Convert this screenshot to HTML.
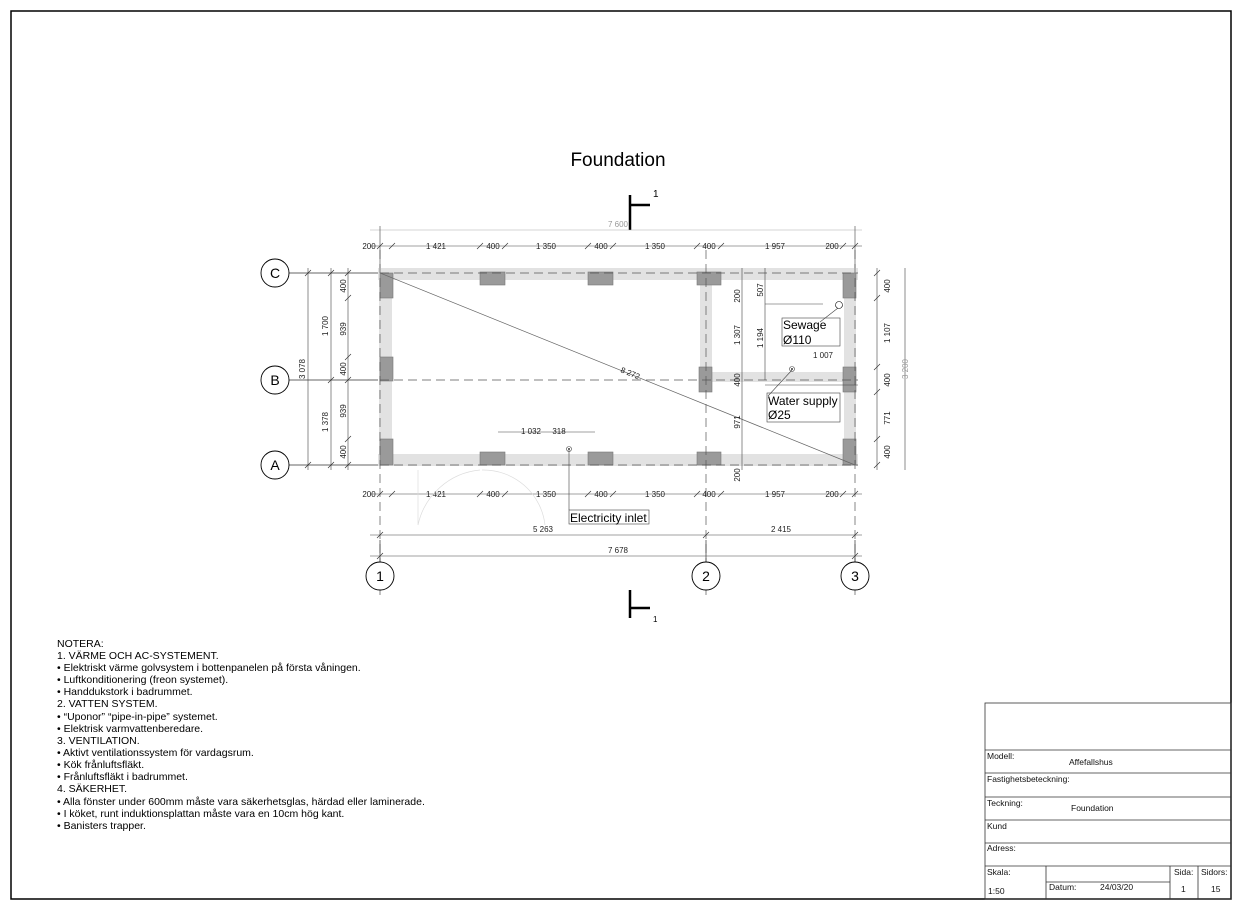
<!DOCTYPE html>
<html><head><meta charset="utf-8"><style>
body{margin:0;background:#fff}
svg{display:block;font-family:"Liberation Sans",sans-serif}
.d{font-size:8px;fill:#222}
.n{font-size:10.5px;fill:#000}
.t{font-size:8.5px;fill:#111}
</style></head><body>
<svg width="1242" height="910" viewBox="0 0 1242 910" xmlns="http://www.w3.org/2000/svg">
<rect x="11" y="11" width="1220" height="888" fill="none" stroke="#000" stroke-width="1.5"/>
<text x="618" y="166" font-size="19" text-anchor="middle">Foundation</text>
<!-- section markers -->
<path d="M630 195V230M630 205H650" stroke="#000" stroke-width="2.5" fill="none"/>
<text x="653" y="197" font-size="10">1</text>
<path d="M630 590V618M630 608H650" stroke="#000" stroke-width="2.5" fill="none"/>
<text x="653" y="622" font-size="8">1</text>
<!-- foundation strips -->
<g fill="#e2e2e2">
<rect x="378" y="268" width="480" height="12"/>
<rect x="378" y="454" width="480" height="12"/>
<rect x="379" y="268" width="13" height="198"/>
<rect x="844" y="268" width="12" height="198"/>
<rect x="700" y="280" width="12" height="100"/>
<rect x="700" y="372" width="156" height="10"/>
</g>
<g fill="#9a9a9a" stroke="#777" stroke-width="0.6">
<rect x="480" y="272" width="25" height="13"/><rect x="588" y="272" width="25" height="13"/><rect x="697" y="272" width="24" height="13"/>
<rect x="480" y="452" width="25" height="13"/><rect x="588" y="452" width="25" height="13"/><rect x="697" y="452" width="24" height="13"/>
<rect x="380" y="273" width="13" height="25"/><rect x="380" y="357" width="13" height="24"/><rect x="380" y="439" width="13" height="26"/>
<rect x="843" y="273" width="13" height="25"/><rect x="843" y="367" width="13" height="25"/><rect x="843" y="439" width="13" height="26"/>
<rect x="699" y="367" width="13" height="25"/>
</g>
<!-- grid lines dashed -->
<g stroke="#555" stroke-width="0.7" stroke-dasharray="9,5" fill="none">
<path d="M380 273H858M380 380H858M380 465H858"/>
<path d="M380 250V600M706 250V600M855 250V600"/>
</g>
<!-- diagonal -->
<path d="M380 273L855 465" stroke="#666" stroke-width="0.7"/>
<text x="620" y="372" class="d" transform="rotate(22 620 372)">8 272</text>
<!-- grid line extensions to bubbles -->
<g stroke="#333" stroke-width="0.7" fill="none">
<path d="M289 273H378M289 380H378M289 465H378"/>
<path d="M380 562V540M706 562V540M855 562V540"/>
</g>
<g fill="#fff" stroke="#000" stroke-width="0.9">
<circle cx="275" cy="273" r="14"/><circle cx="275" cy="380" r="14"/><circle cx="275" cy="465" r="14"/>
<circle cx="380" cy="576" r="14"/><circle cx="706" cy="576" r="14"/><circle cx="855" cy="576" r="14"/>
</g>
<g font-size="14" text-anchor="middle">
<text x="275" y="278">C</text><text x="275" y="385">B</text><text x="275" y="470">A</text>
<text x="380" y="581">1</text><text x="706" y="581">2</text><text x="855" y="581">3</text>
</g>
<!-- dimension lines -->
<g stroke="#444" stroke-width="0.6" fill="none">
<path d="M370 230H862" stroke="#aaa"/>
<path d="M370 246H862M370 494H862M370 535H862M370 556H862"/>
<path d="M308 268V470M331 268V470M348 268V470M877 268V470M905 268V470"/>
<path d="M380 226V268M855 226V268"/>
<path d="M498 432H595M765 385H858"/>
<path d="M742 268V470M765 268V380"/>
</g>
<g stroke="#333" stroke-width="0.7">
<path d="M377 249l6-6M389 249l6-6M477 249l6-6M502 249l6-6M585 249l6-6M610 249l6-6M694 249l6-6M718 249l6-6M840 249l6-6M852 249l6-6"/>
<path d="M377 497l6-6M389 497l6-6M477 497l6-6M502 497l6-6M585 497l6-6M610 497l6-6M694 497l6-6M718 497l6-6M840 497l6-6M852 497l6-6"/>
<path d="M377 538l6-6M703 538l6-6M852 538l6-6M377 559l6-6M852 559l6-6"/>
<path d="M305 276l6-6M305 468l6-6M328 276l6-6M328 383l6-6M328 468l6-6"/>
<path d="M345 276l6-6M345 301l6-6M345 360l6-6M345 383l6-6M345 442l6-6M345 468l6-6"/>
<path d="M874 276l6-6M874 301l6-6M874 370l6-6M874 395l6-6M874 442l6-6M874 468l6-6"/>
</g>
<g class="d" text-anchor="middle">
<text x="618" y="227" fill="#999">7 600</text>
<text x="369" y="249">200</text><text x="436" y="249">1 421</text><text x="493" y="249">400</text><text x="546" y="249">1 350</text><text x="601" y="249">400</text><text x="655" y="249">1 350</text><text x="709" y="249">400</text><text x="775" y="249">1 957</text><text x="832" y="249">200</text>
<text x="369" y="497">200</text><text x="436" y="497">1 421</text><text x="493" y="497">400</text><text x="546" y="497">1 350</text><text x="601" y="497">400</text><text x="655" y="497">1 350</text><text x="709" y="497">400</text><text x="775" y="497">1 957</text><text x="832" y="497">200</text>
<text x="543" y="532">5 263</text><text x="781" y="532">2 415</text><text x="618" y="553">7 678</text>
<text x="531" y="434">1 032</text><text x="559" y="434">318</text><text x="823" y="358">1 007</text>
</g>
<g class="d" text-anchor="middle">
<text transform="translate(305 369) rotate(-90)">3 078</text>
<text transform="translate(328 326) rotate(-90)">1 700</text>
<text transform="translate(328 422) rotate(-90)">1 378</text>
<text transform="translate(346 286) rotate(-90)">400</text>
<text transform="translate(346 329) rotate(-90)">939</text>
<text transform="translate(346 369) rotate(-90)">400</text>
<text transform="translate(346 411) rotate(-90)">939</text>
<text transform="translate(346 452) rotate(-90)">400</text>
<text transform="translate(890 286) rotate(-90)">400</text>
<text transform="translate(890 333) rotate(-90)">1 107</text>
<text transform="translate(890 380) rotate(-90)">400</text>
<text transform="translate(890 418) rotate(-90)">771</text>
<text transform="translate(890 452) rotate(-90)">400</text>
<text transform="translate(908 369) rotate(-90)" fill="#999">3 200</text>
<text transform="translate(740 296) rotate(-90)">200</text>
<text transform="translate(740 335) rotate(-90)">1 307</text>
<text transform="translate(740 380) rotate(-90)">400</text>
<text transform="translate(740 422) rotate(-90)">971</text>
<text transform="translate(740 475) rotate(-90)">200</text>
<text transform="translate(763 290) rotate(-90)">507</text>
<text transform="translate(763 338) rotate(-90)">1 194</text>
</g>
<!-- labels -->
<g stroke="#444" stroke-width="0.6" fill="none">
<path d="M765 304H823"/>
<path d="M838 308L820 322M792 370L768 396M569 450V510"/>
<circle cx="839" cy="305" r="3.5" stroke="#000"/>
<circle cx="792" cy="369" r="2.5"/><circle cx="569" cy="449" r="2.5"/>
<rect x="782" y="318" width="58" height="28"/>
<rect x="767" y="393" width="73" height="29"/>
<rect x="569" y="510" width="80" height="14"/>
</g>
<circle cx="792" cy="369" r="0.9"/><circle cx="569" cy="449" r="0.9"/>
<g font-size="12">
<text x="783" y="329">Sewage</text><text x="783" y="344">Ø110</text>
<text x="768" y="405">Water supply</text><text x="768" y="419">Ø25</text>
<text x="570" y="522">Electricity inlet</text>
</g>
<!-- door arcs -->
<path d="M418 470V525M418 525A70 70 0 0 1 480 470M545 525A62 62 0 0 0 482 470" stroke="#ddd" stroke-width="0.7" fill="none"/>
<!-- notes -->
<g class="n">
<text x="57" y="647">NOTERA:</text>
<text x="57" y="659">1. VÄRME OCH AC-SYSTEMENT.</text>
<text x="57" y="671">• Elektriskt värme golvsystem i bottenpanelen på första våningen.</text>
<text x="57" y="683">• Luftkonditionering (freon systemet).</text>
<text x="57" y="695">• Handdukstork i badrummet.</text>
<text x="57" y="707">2. VATTEN SYSTEM.</text>
<text x="57" y="720">• “Uponor” “pipe-in-pipe” systemet.</text>
<text x="57" y="732">• Elektrisk varmvattenberedare.</text>
<text x="57" y="744">3. VENTILATION.</text>
<text x="57" y="756">• Aktivt ventilationssystem för vardagsrum.</text>
<text x="57" y="768">• Kök frånluftsfläkt.</text>
<text x="57" y="780">• Frånluftsfläkt i badrummet.</text>
<text x="57" y="792">4. SÄKERHET.</text>
<text x="57" y="805">• Alla fönster under 600mm måste vara säkerhetsglas, härdad eller laminerade.</text>
<text x="57" y="817">• I köket, runt induktionsplattan måste vara en 10cm hög kant.</text>
<text x="57" y="829">• Banisters trapper.</text>
</g>
<!-- title block -->
<g stroke="#333" stroke-width="0.8" fill="none">
<rect x="985" y="703" width="246" height="196"/>
<path d="M985 750H1231M985 773H1231M985 797H1231M985 820H1231M985 843H1231M985 866H1231"/>
<path d="M1046 866V899M1170 866V899M1198 866V899M1046 882H1170"/>
</g>
<g class="t">
<text x="987" y="759">Modell:</text><text x="1069" y="765">Affefallshus</text>
<text x="987" y="782">Fastighetsbeteckning:</text>
<text x="987" y="806">Teckning:</text><text x="1071" y="811">Foundation</text>
<text x="987" y="829">Kund</text>
<text x="987" y="851">Adress:</text>
<text x="987" y="875">Skala:</text><text x="988" y="894">1:50</text>
<text x="1049" y="890">Datum:</text><text x="1100" y="890">24/03/20</text>
<text x="1174" y="875">Sida:</text><text x="1181" y="892">1</text>
<text x="1201" y="875">Sidors:</text><text x="1211" y="892">15</text>
</g>
</svg>
</body></html>
